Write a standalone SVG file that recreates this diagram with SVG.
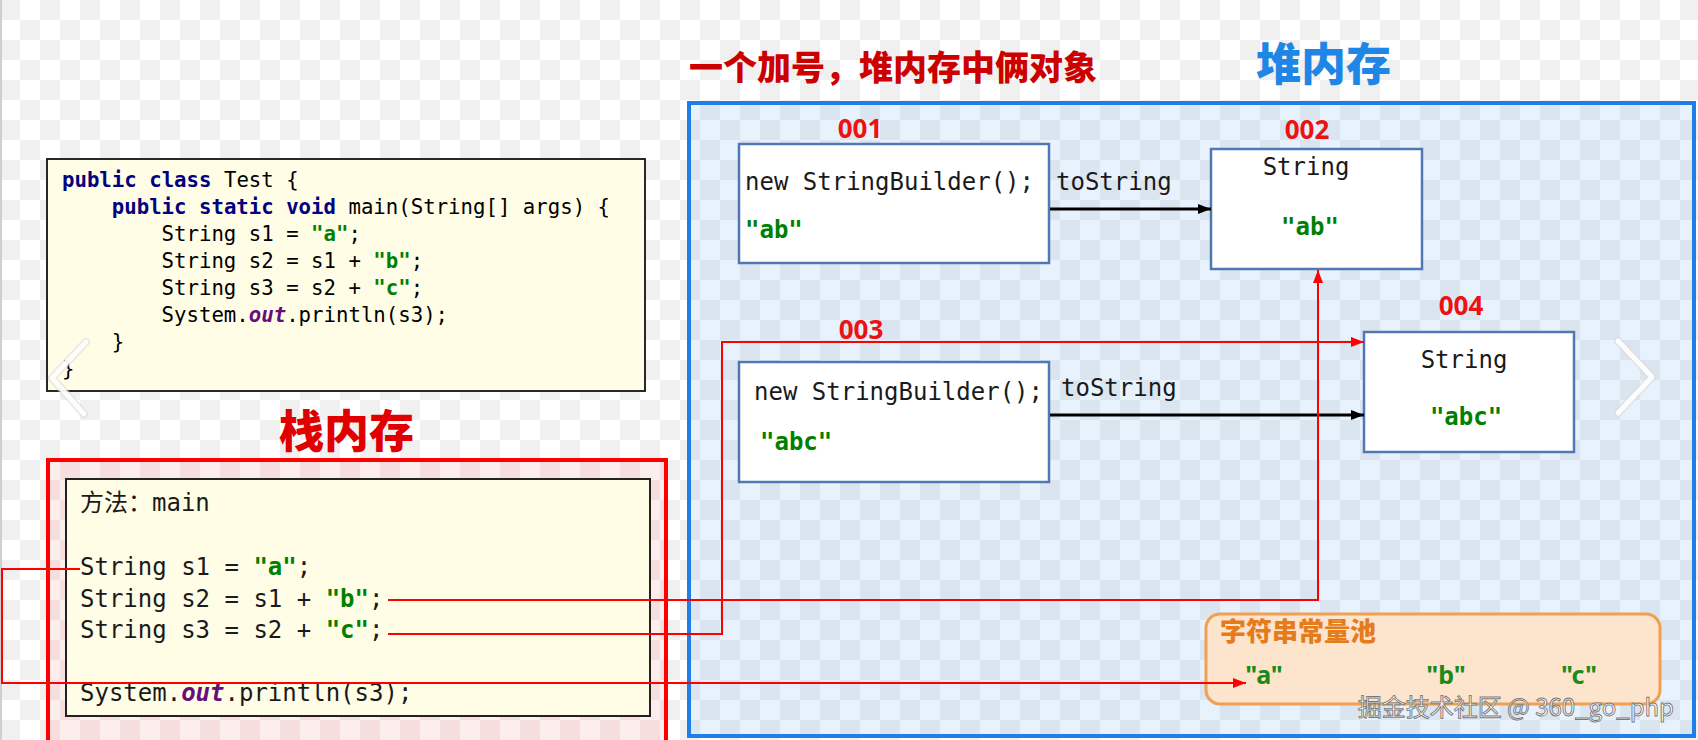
<svg xmlns="http://www.w3.org/2000/svg" width="1698" height="740" viewBox="0 0 1698 740">
<defs>
<pattern id="chkW" width="40" height="40" patternUnits="userSpaceOnUse"><rect width="40" height="40" fill="#ffffff"/><rect width="20" height="20" fill="#f0f0f0"/><rect x="20" y="20" width="20" height="20" fill="#f0f0f0"/></pattern>
<pattern id="chkB" width="40" height="40" patternUnits="userSpaceOnUse"><rect width="40" height="40" fill="#e8f2fd"/><rect width="20" height="20" fill="#dbe5f0"/><rect x="20" y="20" width="20" height="20" fill="#dbe5f0"/></pattern>
<pattern id="chkR" width="40" height="40" patternUnits="userSpaceOnUse"><rect width="40" height="40" fill="#fdeeee"/><rect width="20" height="20" fill="#f6dede"/><rect x="20" y="20" width="20" height="20" fill="#f6dede"/></pattern>
<marker id="arK" markerUnits="userSpaceOnUse" markerWidth="14" markerHeight="12" refX="13" refY="6" orient="auto"><path d="M0,1 L13,6 L0,11 Z" fill="#000"/></marker>
<marker id="arR" markerUnits="userSpaceOnUse" markerWidth="14" markerHeight="12" refX="13" refY="6" orient="auto"><path d="M0,1 L13,6 L0,11 Z" fill="#ff0000"/></marker>
<style>
.mono{font-family:"DejaVu Sans Mono","Noto Sans CJK SC",monospace;}
.code{font-size:20.7px;fill:#000;}
.big{font-size:24px;fill:#1a1a1a;}
.kw{font-weight:bold;fill:#000080;}
.str{font-weight:bold;fill:#008000;}
.out{font-weight:bold;font-style:italic;fill:#660e7a;}
.addr{font-family:"Open Sans","Noto Sans",sans-serif;font-weight:bold;font-size:26px;fill:#ee1111;text-anchor:middle;}
.obj{fill:#ffffff;stroke:#4f78b4;stroke-width:2.5;}
.red{fill:none;stroke:#ff0000;stroke-width:2;}
.blk{fill:none;stroke:#000;stroke-width:3;}
.cjk{font-family:"Noto Sans CJK SC",sans-serif;font-weight:900;}
.pool{font-family:"Noto Sans","Open Sans",sans-serif;font-weight:bold;font-size:25px;fill:#1a8a1a;text-anchor:middle;}
</style>
</defs>

<rect x="0" y="0" width="1698" height="740" fill="url(#chkW)"/>
<line x1="1" y1="0" x2="1" y2="740" stroke="#cfcfcf" stroke-width="2"/>

<g id="title">
<text class="cjk" x="689" y="80" font-size="34" fill="#cc0000">一个加号，堆内存中俩对象</text>
</g>
<g id="heap-label">
<text class="cjk" x="1256" y="81" font-size="45" fill="#1f86e6">堆内存</text>
</g>

<g id="heap">
<rect x="689" y="103" width="1005" height="633" fill="url(#chkB)" stroke="#1e7fe8" stroke-width="4"/>
</g>

<g id="code">
<rect x="47" y="159" width="598" height="232" fill="#fffde6" stroke="#111" stroke-width="1.8"/>
<text class="mono code" x="62" y="187"><tspan class="kw">public</tspan> <tspan class="kw">class</tspan> Test {</text>
<text class="mono code" x="111.8" y="214"><tspan class="kw">public static void</tspan> main(String[] args) {</text>
<text class="mono code" x="161.6" y="241">String s1 = <tspan class="str">"a"</tspan>;</text>
<text class="mono code" x="161.6" y="268">String s2 = s1 + <tspan class="str">"b"</tspan>;</text>
<text class="mono code" x="161.6" y="295">String s3 = s2 + <tspan class="str">"c"</tspan>;</text>
<text class="mono code" x="161.6" y="322">System.<tspan class="out">out</tspan>.println(s3);</text>
<text class="mono code" x="111.8" y="349">}</text>
<text class="mono code" x="62" y="376">}</text>
</g>

<g id="stack-label">
<text class="cjk" x="279" y="448" font-size="45" fill="#e00000">栈内存</text>
</g>

<g id="stack">
<rect x="48" y="460" width="618" height="300" fill="url(#chkR)" stroke="#ff0000" stroke-width="4"/>
<rect x="66" y="479" width="584" height="237" fill="#fffde6" stroke="#222" stroke-width="2"/>
<text class="mono big" x="80" y="511">方法：main</text>
<text class="mono big" x="80" y="575">String s1 = <tspan class="str">"a"</tspan>;</text>
<text class="mono big" x="80" y="607">String s2 = s1 + <tspan class="str">"b"</tspan>;</text>
<text class="mono big" x="80" y="638">String s3 = s2 + <tspan class="str">"c"</tspan>;</text>
<text class="mono big" x="80" y="701">System.<tspan class="out">out</tspan>.println(s3);</text>
</g>

<g id="obj001">
<text class="addr" x="860" y="138">001</text>
<rect class="obj" x="739" y="144" width="310" height="119"/>
<text class="mono big" x="745" y="190">new StringBuilder();</text>
<text class="mono big str" x="745" y="238">"ab"</text>
</g>

<g id="obj002">
<text class="addr" x="1307" y="139">002</text>
<rect class="obj" x="1211" y="149" width="211" height="120"/>
<text class="mono big" x="1306" y="175" text-anchor="middle">String</text>
<text class="mono big str" x="1310" y="235" text-anchor="middle">"ab"</text>
</g>

<g id="obj003">
<text class="addr" x="861" y="339">003</text>
<rect class="obj" x="739" y="362" width="310" height="120"/>
<text class="mono big" x="754" y="400">new StringBuilder();</text>
<text class="mono big str" x="760" y="450">"abc"</text>
</g>

<g id="obj004">
<text class="addr" x="1461" y="315">004</text>
<rect class="obj" x="1364" y="332" width="210" height="120"/>
<text class="mono big" x="1464" y="368" text-anchor="middle">String</text>
<text class="mono big str" x="1466" y="425" text-anchor="middle">"abc"</text>
</g>

<g id="pool">
<rect x="1206" y="614" width="454" height="90" rx="14" fill="#fde4cc" stroke="#f0a050" stroke-width="3"/>
<text class="cjk" x="1220" y="641" font-size="26" fill="#e57c1c" font-weight="bold">字符串常量池</text>
<text class="pool" x="1264" y="684">"a"</text>
<text class="pool" x="1446" y="684">"b"</text>
<text class="pool" x="1579" y="684">"c"</text>
</g>

<g id="connectors">
<text class="mono big" x="1056" y="190">toString</text>
<text class="mono big" x="1061" y="396">toString</text>
<line class="blk" x1="1050" y1="209" x2="1211" y2="209" marker-end="url(#arK)"/>
<line class="blk" x1="1050" y1="415" x2="1364" y2="415" marker-end="url(#arK)"/>
<path class="red" d="M80,569 H2 V683 H1246" marker-end="url(#arR)"/>
<path class="red" d="M388,600 H1318 V270" marker-end="url(#arR)"/>
<path class="red" d="M388,634 H722 V342 H1364" marker-end="url(#arR)"/>
</g>

<g id="nav" fill="none" stroke-linecap="round" stroke-linejoin="round">
<polyline points="86,342 52,378 84,414" stroke="#d8d8d8" stroke-width="8" opacity="0.6"/>
<polyline points="86,342 52,378 84,414" stroke="#ffffff" stroke-width="5" opacity="0.9"/>
<polyline points="1618,341 1652,377 1618,413" stroke="#d8d8d8" stroke-width="8" opacity="0.6"/>
<polyline points="1618,341 1652,377 1618,413" stroke="#ffffff" stroke-width="5" opacity="0.9"/>
</g>

<g id="watermark">
<text x="1674" y="716" text-anchor="end" font-family="Noto Sans CJK SC, sans-serif" font-size="24" fill="#ffffff" stroke="#7a7a7a" stroke-width="0.9">掘金技术社区 @ 360_go_php</text>
</g>
</svg>
